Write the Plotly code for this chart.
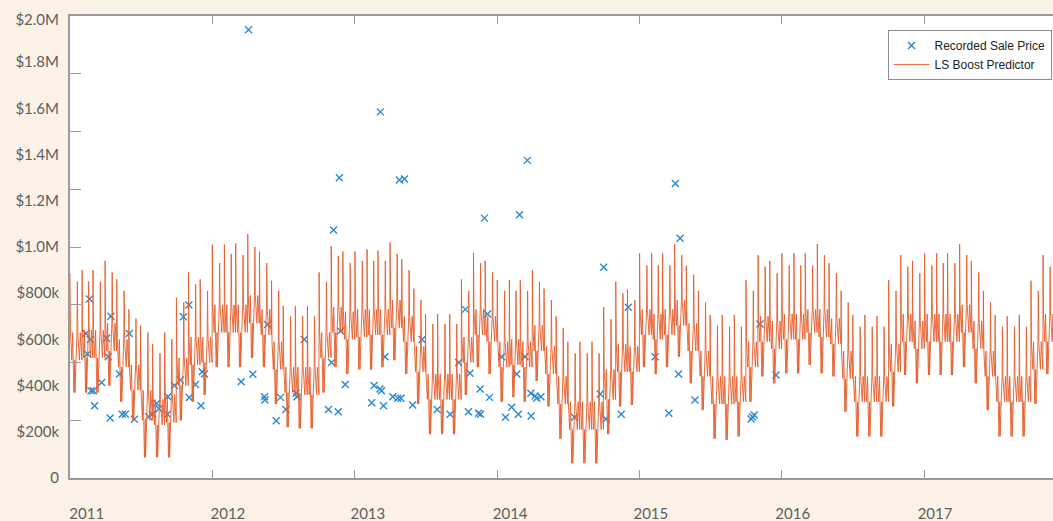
import pandas as pd
import plotly.graph_objects as go

# ---------------- data (values in $k) ----------------
# LS Boost predictor, one set of readings per month, Jan 2011 .. Dec 2017
MONTH_START = "2011-01-01"
P1 = [886, 900, 900, 940, 860, 730, 660, 580, 630, 780, 890, 860,
      1010, 1010, 1016, 1056, 980, 854, 745, 745, 745, 890, 1004, 980,
      980, 990, 985, 1020, 947, 820, 710, 710, 710, 860, 975, 940,
      857, 857, 857, 900, 820, 700, 590, 590, 590, 740, 850, 817,
      973, 973, 973, 1013, 920, 810, 706, 706, 706, 857, 965, 940,
      973, 973, 973, 1013, 930, 810, 706, 706, 700, 857, 965, 940,
      973, 973, 973, 1013, 940, 810, 706, 700, 706, 854, 965, 980]
P2 = [850, 850, 850, 890, 810, 690, 630, 540, 600, 760, 840, 810,
      930, 970, 965, 1000, 930, 810, 700, 700, 700, 850, 960, 930,
      940, 940, 940, 970, 900, 770, 667, 667, 667, 810, 930, 890,
      810, 810, 810, 850, 770, 650, 540, 540, 540, 687, 800, 770,
      920, 920, 920, 965, 880, 760, 660, 655, 655, 810, 915, 886,
      920, 920, 920, 965, 886, 760, 655, 655, 655, 810, 915, 886,
      920, 930, 930, 965, 890, 760, 655, 655, 655, 810, 915, 920]
TROUGH = [370, 370, 370, 400, 330, 250, 90, 90, 90, 250, 330, 360,
          480, 480, 480, 520, 480, 320, 220, 215, 215, 370, 480, 450,
          470, 470, 480, 510, 450, 320, 190, 190, 190, 360, 480, 450,
          330, 350, 330, 420, 310, 170, 64, 64, 64, 190, 310, 316,
          480, 450, 480, 525, 410, 294, 170, 165, 180, 330, 440, 410,
          453, 453, 490, 453, 440, 287, 180, 180, 180, 310, 446, 410,
          446, 446, 446, 480, 410, 294, 180, 180, 180, 320, 450, 450]
BAND_HI = [630, 640, 640, 670, 600, 490, 380, 340, 360, 520, 610, 610,
           750, 750, 750, 790, 730, 590, 480, 480, 480, 630, 740, 720,
           730, 730, 730, 770, 700, 570, 450, 450, 450, 610, 730, 700,
           590, 600, 590, 660, 570, 440, 330, 330, 330, 470, 580, 570,
           730, 710, 730, 770, 670, 550, 440, 440, 440, 590, 700, 680,
           710, 710, 730, 730, 690, 550, 440, 440, 440, 580, 710, 680,
           710, 710, 710, 750, 680, 550, 440, 440, 440, 590, 710, 720]
BAND_LO = [510, 520, 520, 550, 480, 380, 250, 230, 240, 400, 490, 500,
           630, 630, 630, 670, 620, 470, 370, 360, 360, 520, 630, 600,
           610, 620, 620, 650, 590, 460, 340, 340, 340, 500, 620, 590,
           480, 490, 480, 550, 450, 320, 210, 210, 210, 340, 460, 460,
           620, 600, 620, 660, 550, 440, 320, 320, 330, 480, 590, 560,
           600, 600, 630, 610, 580, 430, 330, 330, 330, 460, 590, 560,
           590, 590, 590, 630, 560, 440, 330, 330, 330, 470, 590, 600]

# Recorded sale prices
SALE_DATES = [
    "2011-02-20", "2011-02-11", "2011-02-22", "2011-02-15", "2011-02-24", "2011-03-02",
    "2011-03-05", "2011-03-23", "2011-04-05", "2011-04-16", "2011-04-09", "2011-04-14",
    "2011-05-08", "2011-05-15", "2011-05-23", "2011-06-02", "2011-06-15", "2011-07-22",
    "2011-07-31", "2011-08-11", "2011-08-17", "2011-09-08", "2011-09-09", "2011-09-26",
    "2011-10-11", "2011-10-19", "2011-11-02", "2011-11-03", "2011-11-19", "2011-12-03",
    "2011-12-06", "2011-12-12",
    "2012-11-07", "2012-03-15", "2012-04-14", "2012-05-22", "2012-05-14", "2012-05-15",
    "2012-06-24", "2012-06-13", "2012-07-08", "2012-08-03", "2012-08-05", "2012-08-24",
    "2012-10-25", "2012-11-19", "2012-11-02", "2012-11-25", "2012-12-07", "2013-02-19",
    "2013-03-06", "2013-03-10", "2013-02-13", "2013-03-15", "2013-03-19", "2013-04-08",
    "2013-04-21", "2012-04-03", "2012-11-22", "2013-03-07", "2013-04-25", "2013-05-08",
    "2013-11-29", "2013-04-29", "2013-05-29", "2013-06-22", "2013-07-31", "2013-09-02",
    "2013-09-24", "2013-10-11", "2013-10-23", "2013-10-19", "2013-11-14", "2013-11-19",
    "2013-11-18", "2013-12-12", "2013-12-07", "2014-01-12", "2014-01-22", "2014-02-07",
    "2014-02-24", "2014-02-20", "2014-03-13", "2014-03-29", "2014-03-28", "2014-04-08",
    "2014-04-12", "2014-04-23", "2014-02-27", "2014-03-19",
    "2014-10-01", "2015-04-15", "2014-12-03", "2014-07-18", "2014-09-22", "2014-10-07",
    "2014-11-15", "2015-02-10", "2015-03-17", "2015-04-11", "2015-05-23", "2015-04-03",
    "2015-11-06", "2015-12-17", "2015-10-14", "2015-10-22", "2015-10-18",
]
SALE_PRICES = [
    775, 626, 600, 537, 378, 378,
    313, 413, 605, 700, 525, 260,
    450, 276, 276, 626, 254, 265,
    276, 323, 300, 276, 352, 400,
    424, 698, 749, 348, 405, 313,
    460, 450,
    1074, 417, 449, 665, 352, 338,
    349, 248, 297, 367, 352, 600,
    297, 287, 500, 636, 405, 400,
    385, 378, 326, 313, 525, 352,
    345, 1940, 1300, 1585, 1290, 1294,
    1125, 345, 316, 600, 297, 276,
    500, 730, 453, 287, 280, 276,
    385, 349, 710, 525, 263, 306,
    276, 450, 525, 268, 367, 355,
    345, 352, 1140, 1375,
    912, 1038, 739, 263, 364, 255,
    276, 525, 280, 450, 338, 1275,
    667, 446, 255, 273, 264,
]

Y_TICK_VALUES = [0, 200, 400, 600, 800, 1000, 1200, 1400, 1600, 1800, 2000]
Y_TICK_TEXT = ["0", "$200k", "$400k", "$600k", "$800k", "$1.0M", "$1.2M",
               "$1.4M", "$1.6M", "$1.8M", "$2.0M"]
YEAR_LABELS = ["2011", "2012", "2013", "2014", "2015", "2016", "2017"]

# ---------------- styling / positions ----------------
BG = "#FCF2E8"
AXC = "#9a9a9a"
LABEL_FONT = dict(family="Lato, Open Sans, sans-serif", size=15, color="#5e5e5e")
X_START = "2011-01-01"
X_END = "2017-11-26 12:00"
YEAR_LABEL_POS = ["2011-02-13", "2012-02-10", "2013-02-03", "2014-02-03",
                  "2015-01-30", "2016-01-29", "2017-01-28"]
YEAR_TICKS = ["2011-01-01", "2012-01-01", "2013-01-01", "2014-01-01",
              "2015-01-01", "2016-01-01", "2017-01-01"]

# within-month drawing template (day offsets on a 30-day scale)
TEMPLATE = [(0, "P1"), (1.2, "BU"), (4.5, "BL"), (6.5, "BU"),
            (9.6, "T"), (10.3, "BL"), (11.0, "T"), (11.7, "BL"), (12.4, "T"),
            (15.5, "BL"), (17.3, "BU"), (18.2, "P2"), (19.4, "BU"),
            (23.5, "BL"), (25.5, "BU"), (29.5, "BL")]

line_x, line_y = [], []
start = pd.Timestamp(MONTH_START)
for m in range(len(P1)):
    ms = start + pd.DateOffset(months=m)
    ndays = (ms + pd.DateOffset(months=1) - ms).days
    vals = {"P1": P1[m], "P2": P2[m], "T": TROUGH[m], "BU": BAND_HI[m], "BL": BAND_LO[m]}
    for off, key in TEMPLATE:
        line_x.append(ms + pd.Timedelta(days=off / 30.0 * ndays))
        line_y.append(vals[key] * 1000)

fig = go.Figure()
fig.add_trace(go.Scatter(
    x=pd.to_datetime(SALE_DATES), y=[v * 1000 for v in SALE_PRICES],
    mode="markers", name="Recorded Sale Price",
    marker=dict(symbol="x-thin", size=7, color="#2B89D2",
                line=dict(width=1.4, color="#2B89D2")),
))
fig.add_trace(go.Scatter(
    x=line_x, y=line_y, mode="lines", name="LS Boost Predictor",
    line=dict(color="#E55D2B", width=0.9),
))
# invisible trace carrying the MATLAB-style tick axes
fig.add_trace(go.Scatter(x=[X_START], y=[None], xaxis="x2", yaxis="y2",
                         showlegend=False, hoverinfo="skip", mode="markers"))

fig.update_layout(
    width=1053, height=521,
    margin=dict(l=70, r=0, t=16, b=43),
    paper_bgcolor=BG, plot_bgcolor="white",
    showlegend=True,
    xaxis=dict(type="date", range=[X_START, X_END], tickvals=YEAR_LABEL_POS,
               ticktext=YEAR_LABELS, ticks="", showline=False, showgrid=False,
               zeroline=False, tickfont=LABEL_FONT, ticklabelstandoff=25),
    yaxis=dict(range=[0, 2e6],
               tickvals=[v * 1000 if v < 2000 else 1.983e6 for v in Y_TICK_VALUES],
               ticktext=Y_TICK_TEXT, ticks="", showline=False, showgrid=False,
               zeroline=False, tickfont=LABEL_FONT, ticklabelstandoff=10),
    xaxis2=dict(type="date", overlaying="x", anchor="y2", range=[X_START, X_END],
                tickvals=YEAR_TICKS, ticks="inside", ticklen=8, tickcolor=AXC,
                tickwidth=1, showticklabels=False, showline=True, linecolor=AXC,
                linewidth=1.5, mirror="allticks", showgrid=False, zeroline=False),
    yaxis2=dict(overlaying="y", range=[0, 2e6],
                tickvals=[i * 250000 for i in range(9)], ticks="inside", ticklen=11,
                tickcolor=AXC, tickwidth=1, showticklabels=False, showline=True,
                linecolor=AXC, linewidth=1.5, showgrid=False, zeroline=False,
                side="left"),
    legend=dict(x=0.9985, xanchor="right", y=0.9697, yanchor="top",
                bgcolor="white", bordercolor="#8c8c8c", borderwidth=1,
                font=dict(family="Liberation Sans, Arial, sans-serif", size=12,
                          color="#222222"),
                itemwidth=36, tracegroupgap=0),
)

fig.write_html("out.html", config={"displayModeBar": False},
               post_script="document.body.style.margin='0px';document.body.style.overflow='hidden';")
